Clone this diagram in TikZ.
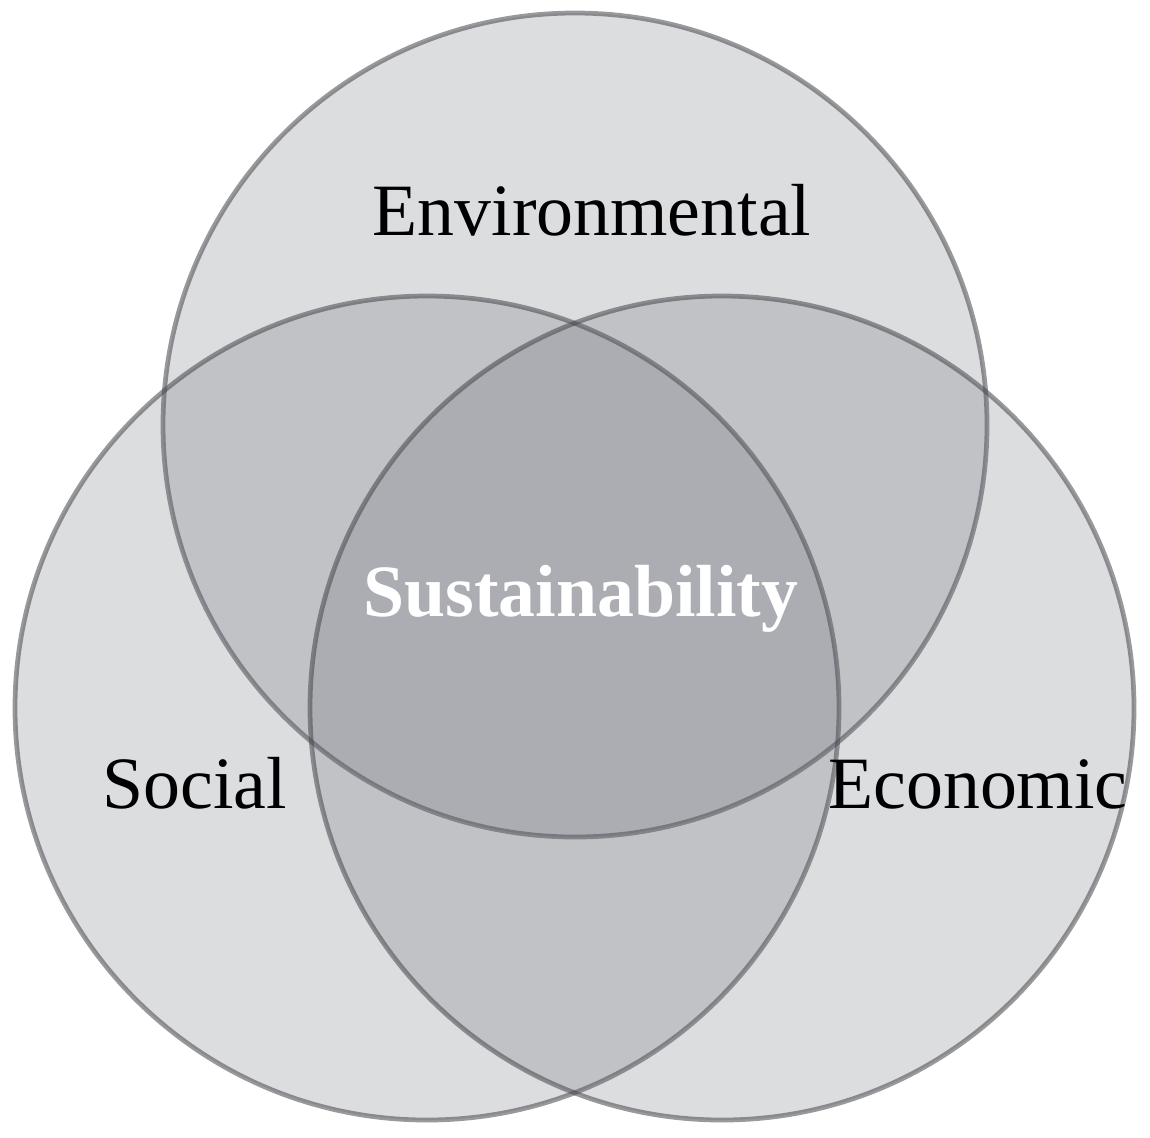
\documentclass[tikz,border=0pt]{standalone}
\usepackage{fontspec}
\setmainfont{Liberation Serif}
\usepackage{tikz}
\usetikzlibrary{positioning}

\definecolor{venngray}{RGB}{90,95,105}
\definecolor{venndraw}{RGB}{70,70,75}

\begin{document}
\begin{tikzpicture}[every node/.style={font=\fontsize{21}{25}\selectfont}]

            \useasboundingbox (0,0) rectangle (11.5,-11.37);

            % Circles
            \node [circle, draw=venndraw, draw opacity=0.55, line width=1.35pt, fill=venngray, fill opacity=0.212, minimum size=8.24cm, inner sep=0pt] (env) at (5.75,-4.25) {};
            \node [circle, draw=venndraw, draw opacity=0.55, line width=1.35pt, fill=venngray, fill opacity=0.212, minimum size=8.24cm, inner sep=0pt] (soc) at (4.27,-7.08) {};
            \node [circle, draw=venndraw, draw opacity=0.55, line width=1.35pt, fill=venngray, fill opacity=0.212, minimum size=8.24cm, inner sep=0pt] (eco) at (7.22,-7.08) {};

            % Labels
            \node [anchor=base] (envlabel) at (5.92,-2.35) {Environmental};
            \node [anchor=base] (soclabel) at (1.95,-8.08) {Social};
            \node [anchor=base] (ecolabel) at (9.78,-8.08) {Economic};
            \node [anchor=base, text=white, font=\fontsize{21}{25}\selectfont\bfseries] (sus) at (5.81,-6.16) {Sustainability};

        \end{tikzpicture}
\end{document}
